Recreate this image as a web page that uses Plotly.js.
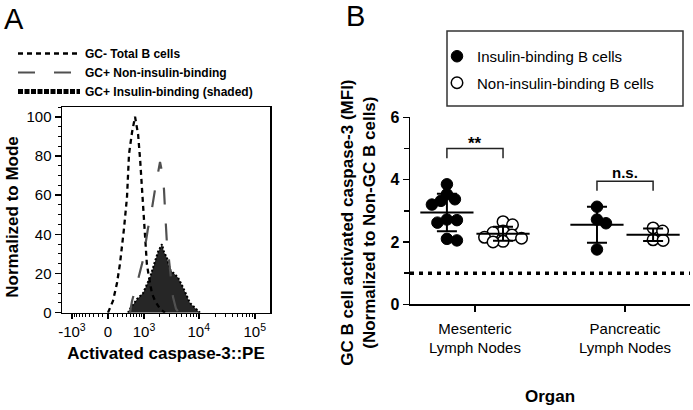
<!DOCTYPE html>
<html>
<head>
<meta charset="utf-8">
<script src="https://cdn.plot.ly/plotly-3.0.1.min.js"></script>
<style>
  html, body { margin: 0; padding: 0; background: #fff; }
  #chart { width: 693px; height: 410px; }
</style>
</head>
<body>
<div id="chart"></div>
<script>
// ---------------- Panel A data (fluorescence intensity vs % of mode) ----------------
const histNames = ['GC- Total B cells', 'GC+ Non-insulin-binding', 'GC+ Insulin-binding (shaded)'];
const gcNegX = [0, 99, 181, 246, 339, 414, 468, 554, 650, 757, 835, 919, 990, 1042, 1091, 1135, 1249, 1418, 1624, 2007, 2471];
const gcNegY = [0, 6, 15, 25, 43, 59, 81, 92, 100, 91, 78, 61, 47, 37, 30, 25, 18, 10, 6, 2, 0];
const gcPosNonX = [496, 554, 720, 956, 1193, 1361, 1624, 1840, 2007, 2180, 2371, 2471, 2577, 2687, 2922, 3176, 3454, 3909, 4426];
const gcPosNonY = [0, 6, 15, 27, 43, 50, 63, 72, 77, 72, 63, 53, 43, 35, 27, 18, 8, 2, 0];
const gcPosInsX = [440, 496, 720, 956, 1303, 1624, 1840, 2180, 2371, 2687, 3046, 4244, 5216, 6965, 9676, 10514];
const gcPosInsY = [0, 2, 7, 10, 18, 27, 31, 35, 31, 28, 22, 18, 13, 5, 1, 0];
const histTickValues = [-1000, 0, 1000, 10000, 100000];
const histTickLabels = ['-10<sup>3</sup>', '0', '10<sup>3</sup>', '10<sup>4</sup>', '10<sup>5</sup>'];

// ---------------- Panel B data ----------------
const organs = ['Mesenteric<br>Lymph Nodes', 'Pancreatic<br>Lymph Nodes'];
const groupNames = ['Insulin-binding B cells', 'Non-insulin-binding B cells'];
const insMes = [3.85, 3.53, 3.37, 3.32, 3.20, 2.72, 2.70, 2.62, 2.10, 2.05];
const nonMes = [2.65, 2.55, 2.35, 2.30, 2.22, 2.15, 2.12, 2.02, 2.00];
const insPan = [3.13, 2.72, 2.60, 1.76];
const nonPan = [2.45, 2.35, 2.07, 2.05];
const sigLabels = ['**', 'n.s.'];
const normBaseline = 1;

// ---------------- helpers ----------------
const K = 479;
const biex = v => Math.asinh(v / K) / Math.LN10;   // biexponential-like display transform
const mean = a => a.reduce((s, v) => s + v, 0) / a.length;
const sd = a => { const m = mean(a); return Math.sqrt(a.reduce((s, v) => s + (v - m) * (v - m), 0) / (a.length - 1)); };

const W = 693, H = 410;
const FONT = 'Liberation Sans, Arial, Helvetica, sans-serif';
const pad = n => '&nbsp;'.repeat(n);

// Panel B geometry (for beeswarm spacing)
const bxDom = [410 / W, 690 / W];
const byDom = [1 - 304.3 / H, 1 - 117.3 / H];
const bxRange = [-0.433, 1.433];
const byRange = [0, 6];
const pxPerX = (bxDom[1] - bxDom[0]) * W / (bxRange[1] - bxRange[0]);
const pxPerY = (byDom[1] - byDom[0]) * H / (byRange[1] - byRange[0]);
const groupOffset = 0.187;

// scatter-dot-plot spreading: points avoid each other, allowing some vertical overlap
function swarm(values, center) {
  const minDist = 10, yScale = 1.25;
  const placed = [];
  const xs = new Array(values.length);
  const order = values.map((v, i) => i).sort((a, b) => values[b] - values[a]);
  for (const i of order) {
    const yp = values[i] * pxPerY * yScale;
    let chosen = 0;
    for (let d = 0; d < 60; d += 0.5) {
      let found = null;
      for (const cand of (d === 0 ? [0] : [d, -d])) {
        if (placed.every(p => Math.hypot(cand - p.x, yp - p.y) >= minDist)) { found = cand; break; }
      }
      if (found !== null) { chosen = found; break; }
    }
    placed.push({x: chosen, y: yp});
    xs[i] = center + chosen / pxPerX;
  }
  return xs;
}

// ---------------- traces ----------------
const traces = [];
// Panel A histograms
traces.push({
  x: gcPosInsX.map(biex), y: gcPosInsY, xaxis: 'x', yaxis: 'y', type: 'scatter', mode: 'lines',
  fill: 'tozeroy', fillcolor: '#262626', line: {color: '#000', width: 2, dash: '2px,2px'},
  name: histNames[2], showlegend: false
});
traces.push({
  x: gcNegX.map(biex), y: gcNegY, xaxis: 'x', yaxis: 'y', type: 'scatter', mode: 'lines',
  line: {color: '#000', width: 2.3, dash: '5px,4px'}, name: histNames[0], legend: 'legend'
});
traces.push({
  x: gcPosNonX.map(biex), y: gcPosNonY, xaxis: 'x', yaxis: 'y', type: 'scatter', mode: 'lines',
  line: {color: '#505050', width: 2.2, dash: '17px,19px'}, name: histNames[1], legend: 'legend'
});
// legend entry for the shaded histogram
traces.push({
  x: [null], y: [null], xaxis: 'x', yaxis: 'y', type: 'scatter', mode: 'lines',
  line: {color: '#000', width: 5, dash: '5px,1.5px'}, name: histNames[2], legend: 'legend'
});

// Panel B scatter
const insX = swarm(insMes, 0 - groupOffset).concat(swarm(insPan, 1 - groupOffset));
const nonX = swarm(nonMes, 0 + groupOffset).concat(swarm(nonPan, 1 + groupOffset));
traces.push({
  x: insX, y: insMes.concat(insPan), xaxis: 'x2', yaxis: 'y2', type: 'scatter', mode: 'markers',
  marker: {symbol: 'circle', size: 11.5, color: '#000', line: {color: '#000', width: 1}},
  name: groupNames[0], legend: 'legend2', legendgroup: 'ins', cliponaxis: false
});
traces.push({
  x: nonX, y: nonMes.concat(nonPan), xaxis: 'x2', yaxis: 'y2', type: 'scatter', mode: 'markers',
  marker: {symbol: 'circle', size: 11.5, color: '#fff', line: {color: '#000', width: 1.5}},
  name: groupNames[1], legend: 'legend2', legendgroup: 'non', cliponaxis: false
});
// mean +/- SD
const groups = [insMes, nonMes, insPan, nonPan];
const gx = [0 - groupOffset, 0 + groupOffset, 1 - groupOffset, 1 + groupOffset];
traces.push({
  x: gx, y: groups.map(mean), xaxis: 'x2', yaxis: 'y2', type: 'scatter', mode: 'markers',
  marker: {symbol: 'line-ew', size: 38, line: {color: '#000', width: 2}},
  error_y: {type: 'data', array: groups.map(sd), visible: true, color: '#000', thickness: 2, width: 10},
  showlegend: false, hoverinfo: 'skip', cliponaxis: false
});

// ---------------- layout ----------------
const minorA = [];
for (let k = 1; k <= 9; k++) { minorA.push(-100 * k, 100 * k); }
for (let k = 2; k <= 9; k++) { minorA.push(1000 * k, 10000 * k); }

const axisLine = {showline: true, linecolor: '#000', linewidth: 1.5, showgrid: false, zeroline: false,
  ticks: 'outside', tickcolor: '#000', tickwidth: 1.5};

const layout = {
  width: W, height: H,
  margin: {l: 0, r: 0, t: 0, b: 0},
  paper_bgcolor: '#fff', plot_bgcolor: 'rgba(0,0,0,0)',
  font: {family: FONT, color: '#000'},
  hovermode: false,
  xaxis: Object.assign({}, axisLine, {
    domain: [62 / W, 270 / W], range: [-0.821, 2.893], anchor: 'y', mirror: true,
    tickmode: 'array', tickvals: histTickValues.map(biex), ticktext: histTickLabels, ticklen: 5,
    tickfont: {size: 15, family: FONT},
    minor: {tickvals: minorA.map(biex), ticks: 'outside', ticklen: 3, tickwidth: 1, tickcolor: '#000'},
    title: {text: 'Activated caspase-3::PE', font: {size: 17, weight: 700, family: FONT}, standoff: 8}
  }),
  yaxis: Object.assign({}, axisLine, {
    domain: [1 - 312.7 / H, 1 - 107 / H], range: [0, 105], anchor: 'x', mirror: true,
    tickmode: 'array', tickvals: [0, 20, 40, 60, 80, 100], ticklen: 6,
    tickfont: {size: 15, family: FONT},
    minor: {dtick: 5, ticks: 'outside', ticklen: 3, tickwidth: 1, tickcolor: '#000'},
    title: {text: 'Normalized to Mode' + pad(3), font: {size: 17, weight: 700, family: FONT}, standoff: 3}
  }),
  xaxis2: Object.assign({}, axisLine, {
    domain: bxDom, range: bxRange, anchor: 'y2',
    tickmode: 'array', tickvals: [0, 1], ticktext: organs, ticklen: 6, ticklabelstandoff: 4,
    tickfont: {size: 15, family: FONT},
    title: {text: 'Organ', font: {size: 17, weight: 700, family: FONT}, standoff: 35}
  }),
  yaxis2: Object.assign({}, axisLine, {
    domain: byDom, range: byRange, anchor: 'x2',
    tickmode: 'array', tickvals: [0, 2, 4, 6], ticklen: 6,
    tickfont: {size: 16, weight: 700, family: FONT},
    minor: {tickvals: [1, 3, 5], ticks: 'outside', ticklen: 5, tickwidth: 1.5, tickcolor: '#000'},
    title: {text: 'GC B cell activated caspase-3 (MFI)' + pad(5) + '<br>(Normalized to Non-GC B cells)' + pad(5),
      font: {size: 17, weight: 700, family: FONT}, standoff: 10}
  }),
  legend: {
    x: 13 / W, xanchor: 'left', y: 1 - 39 / H, yanchor: 'top',
    font: {size: 12, weight: 700, family: FONT}, itemwidth: 62,
    bgcolor: 'rgba(0,0,0,0)', borderwidth: 0
  },
  legend2: {
    x: 437 / W, xanchor: 'left', y: 1 - 40 / H, yanchor: 'top',
    font: {size: 15, family: FONT}, tracegroupgap: 4,
    bgcolor: 'rgba(0,0,0,0)', borderwidth: 0
  },
  shapes: [
    {type: 'line', xref: 'x2', yref: 'y2', x0: bxRange[0], x1: bxRange[1], y0: normBaseline, y1: normBaseline,
      line: {color: '#000', width: 3.5, dash: '4px,5px'}},
    {type: 'rect', xref: 'paper', yref: 'paper', x0: 447 / W, x1: 683 / W, y0: 1 - 106 / H, y1: 1 - 31 / H,
      line: {color: '#333', width: 1.5}},
    {type: 'path', xref: 'x2', yref: 'y2',
      path: `M${-groupOffset},4.69 L${-groupOffset},5.0 L${groupOffset},5.0 L${groupOffset},4.69`,
      line: {color: '#222', width: 1.5}},
    {type: 'path', xref: 'x2', yref: 'y2',
      path: `M${1 - groupOffset},3.64 L${1 - groupOffset},3.95 L${1 + groupOffset},3.95 L${1 + groupOffset},3.64`,
      line: {color: '#222', width: 1.5}}
  ],
  annotations: [
    {text: 'A', xref: 'paper', yref: 'paper', x: 13.5 / W, y: 1 - 19 / H, xanchor: 'center', yanchor: 'middle',
      showarrow: false, font: {size: 29, family: FONT}},
    {text: 'B', xref: 'paper', yref: 'paper', x: 355 / W, y: 1 - 16 / H, xanchor: 'center', yanchor: 'middle',
      showarrow: false, font: {size: 29, family: FONT}},
    {text: sigLabels[0], xref: 'x2', yref: 'y2', x: 0, y: 5.17, showarrow: false,
      font: {size: 17, weight: 700, family: FONT}},
    {text: sigLabels[1], xref: 'x2', yref: 'y2', x: 1, y: 4.24, showarrow: false,
      font: {size: 15, weight: 700, family: FONT}}
  ]
};

Plotly.newPlot('chart', traces, layout, {staticPlot: true, displayModeBar: false});
</script>
</body>
</html>
